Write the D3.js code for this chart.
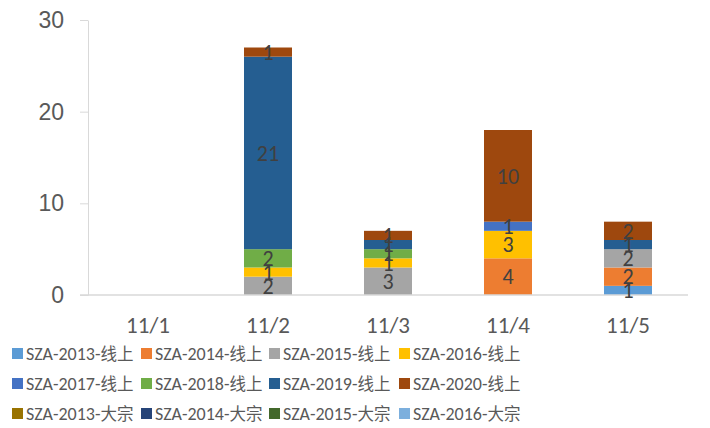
<!DOCTYPE html>
<html>
<head>
<meta charset="utf-8">
<script src="https://cdn.jsdelivr.net/npm/d3@7"></script>
<style>
  body { margin: 0; background: #fff; }
  svg { font-family: Calibri, Carlito, "Noto Sans CJK SC", "Noto Sans", sans-serif; }
</style>
</head>
<body>
<svg id="chart" width="710" height="428"></svg>
<script>
// categories and series
const days = ["11/1", "11/2", "11/3", "11/4", "11/5"];
const seriesNames = [
  "SZA-2013-线上", "SZA-2014-线上", "SZA-2015-线上", "SZA-2016-线上",
  "SZA-2017-线上", "SZA-2018-线上", "SZA-2019-线上", "SZA-2020-线上",
  "SZA-2013-大宗", "SZA-2014-大宗", "SZA-2015-大宗", "SZA-2016-大宗"
];
const colors = [
  "#5B9BD5", "#ED7D31", "#A5A5A5", "#FFC000",
  "#4472C4", "#70AD47", "#255E91", "#9E480E",
  "#997300", "#264478", "#43682B", "#7CAFDD"
];
// values per series, one per day
const s2013 = [0, 0, 0, 0, 1];
const s2014 = [0, 0, 0, 4, 2];
const s2015 = [0, 2, 3, 0, 2];
const s2016 = [0, 1, 1, 3, 0];
const s2017 = [0, 0, 0, 1, 0];
const s2018 = [0, 2, 1, 0, 0];
const s2019 = [0, 21, 1, 0, 1];
const s2020 = [0, 1, 1, 10, 2];
const b2013 = [0, 0, 0, 0, 0];
const b2014 = [0, 0, 0, 0, 0];
const b2015 = [0, 0, 0, 0, 0];
const b2016 = [0, 0, 0, 0, 0];
const yTicks = [0, 10, 20, 30];

const allSeries = [s2013, s2014, s2015, s2016, s2017, s2018, s2019, s2020,
                   b2013, b2014, b2015, b2016];

const rows = days.map((d, i) => {
  const r = { day: d };
  seriesNames.forEach((n, k) => { r[n] = allSeries[k][i]; });
  return r;
});

const svg = d3.select("#chart");
const margin = { left: 88, right: 22, top: 20, bottom: 133 };
const W = 710, H = 428;

const x = d3.scaleBand().domain(days)
  .range([margin.left, W - margin.right]).paddingInner(0.6).paddingOuter(0.3);
const y = d3.scaleLinear().domain([0, 30]).range([H - margin.bottom, margin.top]);

const layers = d3.stack().keys(seriesNames)(rows);

// y axis with small outside ticks
const yAxis = svg.append("g")
  .attr("transform", `translate(${margin.left},0)`)
  .call(d3.axisLeft(y).tickValues(yTicks).tickSize(8).tickSizeOuter(0).tickPadding(16));
yAxis.select(".domain").attr("stroke", "#d9d9d9");
yAxis.selectAll(".tick line").attr("stroke", "#d9d9d9");
yAxis.selectAll(".tick text")
  .attr("font-size", 23).attr("fill", "#595959").attr("font-family", null);

// bars
const gl = svg.append("g").selectAll("g").data(layers).join("g")
  .attr("fill", (d, i) => colors[i]);
gl.selectAll("rect").data(d => d.filter(p => p[1] - p[0] > 0)).join("rect")
  .attr("x", p => x(p.data.day))
  .attr("width", x.bandwidth())
  .attr("y", p => y(p[1]))
  .attr("height", p => y(p[0]) - y(p[1]));

// x axis baseline
svg.append("line")
  .attr("x1", margin.left - 8).attr("x2", W - margin.right)
  .attr("y1", y(0)).attr("y2", y(0))
  .attr("stroke", "#d9d9d9").attr("stroke-width", 1.5);

// data labels
const labels = [];
layers.forEach(layer => layer.forEach(p => {
  const v = p[1] - p[0];
  if (v > 0) labels.push({ day: p.data.day, mid: (p[0] + p[1]) / 2, v });
}));
svg.append("g").selectAll("text").data(labels).join("text")
  .attr("x", d => x(d.day) + x.bandwidth() / 2)
  .attr("y", d => y(d.mid))
  .attr("dy", "0.35em").attr("text-anchor", "middle")
  .attr("font-size", 22).attr("fill", "#404040")
  .text(d => d.v);

// category labels
svg.append("g").selectAll("text").data(days).join("text")
  .attr("x", d => x(d) + x.bandwidth() / 2)
  .attr("y", 325).attr("dy", "0.35em").attr("text-anchor", "middle")
  .attr("font-size", 23).attr("fill", "#595959")
  .text(d => d);

// legend
const legX = [12, 141, 269, 399];
const legY = [354, 384, 414];
const lg = svg.append("g").selectAll("g").data(seriesNames).join("g")
  .attr("transform", (d, i) => `translate(${legX[i % 4]},${legY[Math.floor(i / 4)]})`);
lg.append("rect").attr("x", 0).attr("y", -6).attr("width", 11).attr("height", 11)
  .attr("fill", (d, i) => colors[i]);
const lt = lg.append("text").attr("x", 14).attr("dy", "0.35em")
  .attr("fill", "#595959");
lt.append("tspan").attr("font-size", 18).text(d => d.slice(0, -2));
lt.append("tspan").attr("font-size", 16.5).text(d => d.slice(-2));
</script>
</body>
</html>
